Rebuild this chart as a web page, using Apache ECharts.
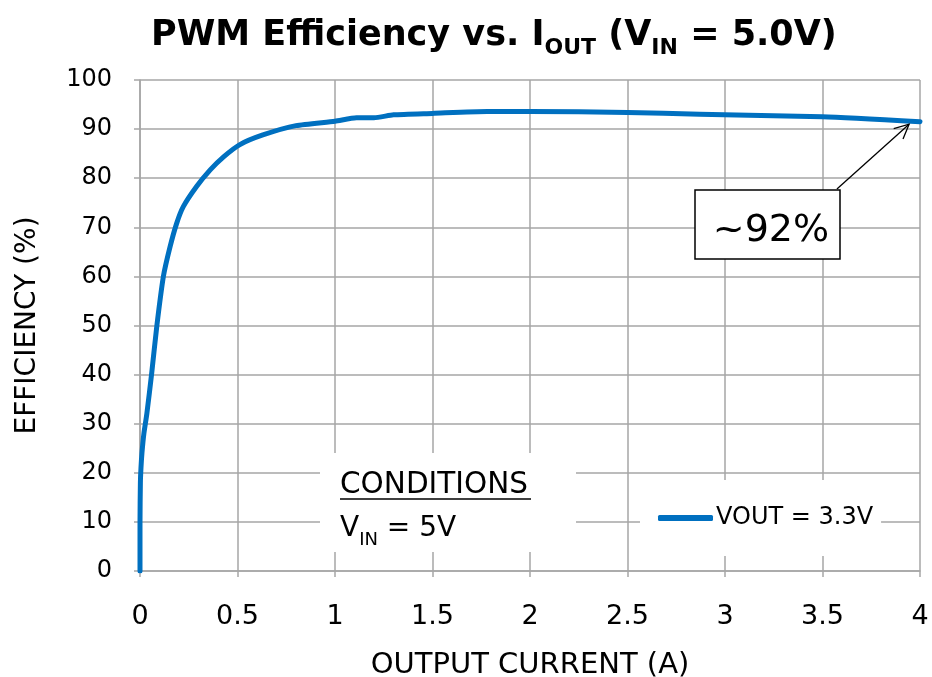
<!DOCTYPE html>
<html>
<head>
<meta charset="utf-8">
<script src="https://cdn.jsdelivr.net/npm/echarts@6/dist/echarts.min.js"></script>
<style>
  html, body { margin: 0; padding: 0; background: #fff; }
  #chart { width: 932px; height: 677px; }
</style>
</head>
<body>
<div id="chart"></div>
<script>
// Output current (A) and efficiency (%) for VOUT = 3.3V
const currentA = [0, 0, 0.002, 0.005, 0.01, 0.02, 0.035, 0.06, 0.086, 0.12, 0.154, 0.188, 0.222, 0.29, 0.36, 0.43, 0.51, 0.63, 0.8, 1.0, 1.11, 1.2, 1.3, 1.5, 1.78, 2.0, 2.5, 2.87, 3.5, 4.0];
const efficiency = [0, 10, 18, 21, 24, 28, 32, 40.3, 49.8, 60, 66, 70.8, 74.2, 78.3, 81.7, 84.4, 86.8, 88.8, 90.7, 91.6, 92.3, 92.3, 92.9, 93.2, 93.6, 93.6, 93.4, 93.0, 92.5, 91.5];
const seriesName = 'VOUT = 3.3V';

// Axis ranges and tick steps
const xMin = 0, xMax = 4, xStep = 0.5;
const yMin = 0, yMax = 100, yStep = 10;

// Callout on the full-load point
const calloutText = '~92%';
const calloutFrom = [3.574, 77.8];
const calloutTo = [3.944, 91.0];

const points = currentA.map((x, i) => [x, efficiency[i]]);

const chart = echarts.init(document.getElementById('chart'));
const gridColor = '#a6a6a6';
const font = '"DejaVu Sans", "Noto Sans", sans-serif';

chart.setOption({
  backgroundColor: '#ffffff',
  animation: false,
  title: {
    left: 146,
    top: -2,
    text: '{b|PWM Efficiency vs. I}{s|OUT}{b| (V}{s|IN}{b| = 5.0V)}',
    textStyle: {
      rich: {
        b: { fontFamily: font, fontWeight: 'bold', fontSize: 35, color: '#000', lineHeight: 50, verticalAlign: 'bottom' },
        s: { fontFamily: font, fontWeight: 'bold', fontSize: 22, color: '#000', lineHeight: 50, verticalAlign: 'bottom', padding: [0, 0, -6, 0] }
      }
    }
  },
  grid: { left: 140, right: 12, top: 80, bottom: 106, containLabel: false, outerBoundsMode: 'none' },
  legend: {
    left: 640,
    top: 480,
    padding: [26, 8, 26, 18],
    backgroundColor: '#ffffff',
    itemWidth: 55,
    itemHeight: 6,
    itemGap: 0,
    icon: 'roundRect',
    textStyle: { fontFamily: font, fontSize: 24, color: '#000', padding: [0, 0, 0, -2] },
    data: [seriesName]
  },
  xAxis: {
    type: 'value',
    min: xMin, max: xMax, interval: xStep,
    name: 'OUTPUT CURRENT (A)',
    nameLocation: 'middle',
    nameGap: 80,
    nameTextStyle: { fontFamily: font, fontSize: 29, color: '#000' },
    axisLine: { show: true, lineStyle: { color: gridColor, width: 1.5 } },
    axisTick: { show: true, length: 6, lineStyle: { color: gridColor, width: 1.5 } },
    axisLabel: { fontFamily: font, fontSize: 27, color: '#000', margin: 32 },
    splitLine: { show: true, lineStyle: { color: gridColor, width: 1.5 } }
  },
  yAxis: {
    type: 'value',
    min: yMin, max: yMax, interval: yStep,
    name: 'EFFICIENCY (%)',
    nameLocation: 'middle',
    nameGap: 98,
    nameTextStyle: { fontFamily: font, fontSize: 28, color: '#000' },
    axisLine: { show: true, lineStyle: { color: gridColor, width: 1.5 } },
    axisTick: { show: true, length: 6, lineStyle: { color: gridColor, width: 1.5 } },
    axisLabel: { fontFamily: font, fontSize: 24, color: '#000', margin: 28 },
    splitLine: { show: true, lineStyle: { color: gridColor, width: 1.5 } }
  },
  series: [{
    name: seriesName,
    type: 'line',
    data: points,
    showSymbol: false,
    smooth: 0.2,
    lineStyle: { color: '#0070c0', width: 5, cap: 'round', join: 'round' },
    itemStyle: { color: '#0070c0' }
  }]
});

// Callout arrow, boxed value label and the conditions note
const p0 = chart.convertToPixel({ gridIndex: 0 }, calloutFrom);
const p1 = chart.convertToPixel({ gridIndex: 0 }, calloutTo);
const ang = Math.atan2(p1[1] - p0[1], p1[0] - p0[0]);
const headLen = 16, headAng = 0.45;
const h1 = [p1[0] - headLen * Math.cos(ang - headAng), p1[1] - headLen * Math.sin(ang - headAng)];
const h2 = [p1[0] - headLen * Math.cos(ang + headAng), p1[1] - headLen * Math.sin(ang + headAng)];

chart.setOption({
  graphic: [
    { type: 'line', z: 50, shape: { x1: p0[0], y1: p0[1], x2: p1[0], y2: p1[1] }, style: { stroke: '#000', lineWidth: 1.3 } },
    { type: 'polyline', z: 50, shape: { points: [h1, p1, h2] }, style: { stroke: '#000', lineWidth: 1.3, fill: null } },
    { type: 'rect', z: 50, shape: { x: 695, y: 190, width: 145, height: 69 }, style: { fill: '#fff', stroke: '#000', lineWidth: 1.5 } },
    { type: 'text', z: 51, x: 771, y: 231, style: { text: calloutText, fontFamily: font, fontSize: 38, fill: '#000', align: 'center', verticalAlign: 'middle' } },
    { type: 'rect', z: 50, shape: { x: 320, y: 453, width: 256, height: 99 }, style: { fill: '#fff' } },
    { type: 'text', z: 51, x: 340, y: 485, style: { text: 'CONDITIONS', fontFamily: font, fontSize: 29.5, fill: '#000', verticalAlign: 'middle' } },
    { type: 'line', z: 51, shape: { x1: 340, y1: 499, x2: 531, y2: 499 }, style: { stroke: '#000', lineWidth: 1.5 } },
    { type: 'text', z: 51, x: 340, y: 526, style: { text: '{v|V}{s|IN}{v| = 5V}', fontFamily: font, rich: {
        v: { fontFamily: font, fontSize: 28, fill: '#000', color: '#000', lineHeight: 34, verticalAlign: 'bottom' },
        s: { fontFamily: font, fontSize: 18, fill: '#000', color: '#000', lineHeight: 34, verticalAlign: 'bottom', padding: [0, 0, -6, 0] }
      }, verticalAlign: 'middle' } }
  ]
});
</script>
</body>
</html>
